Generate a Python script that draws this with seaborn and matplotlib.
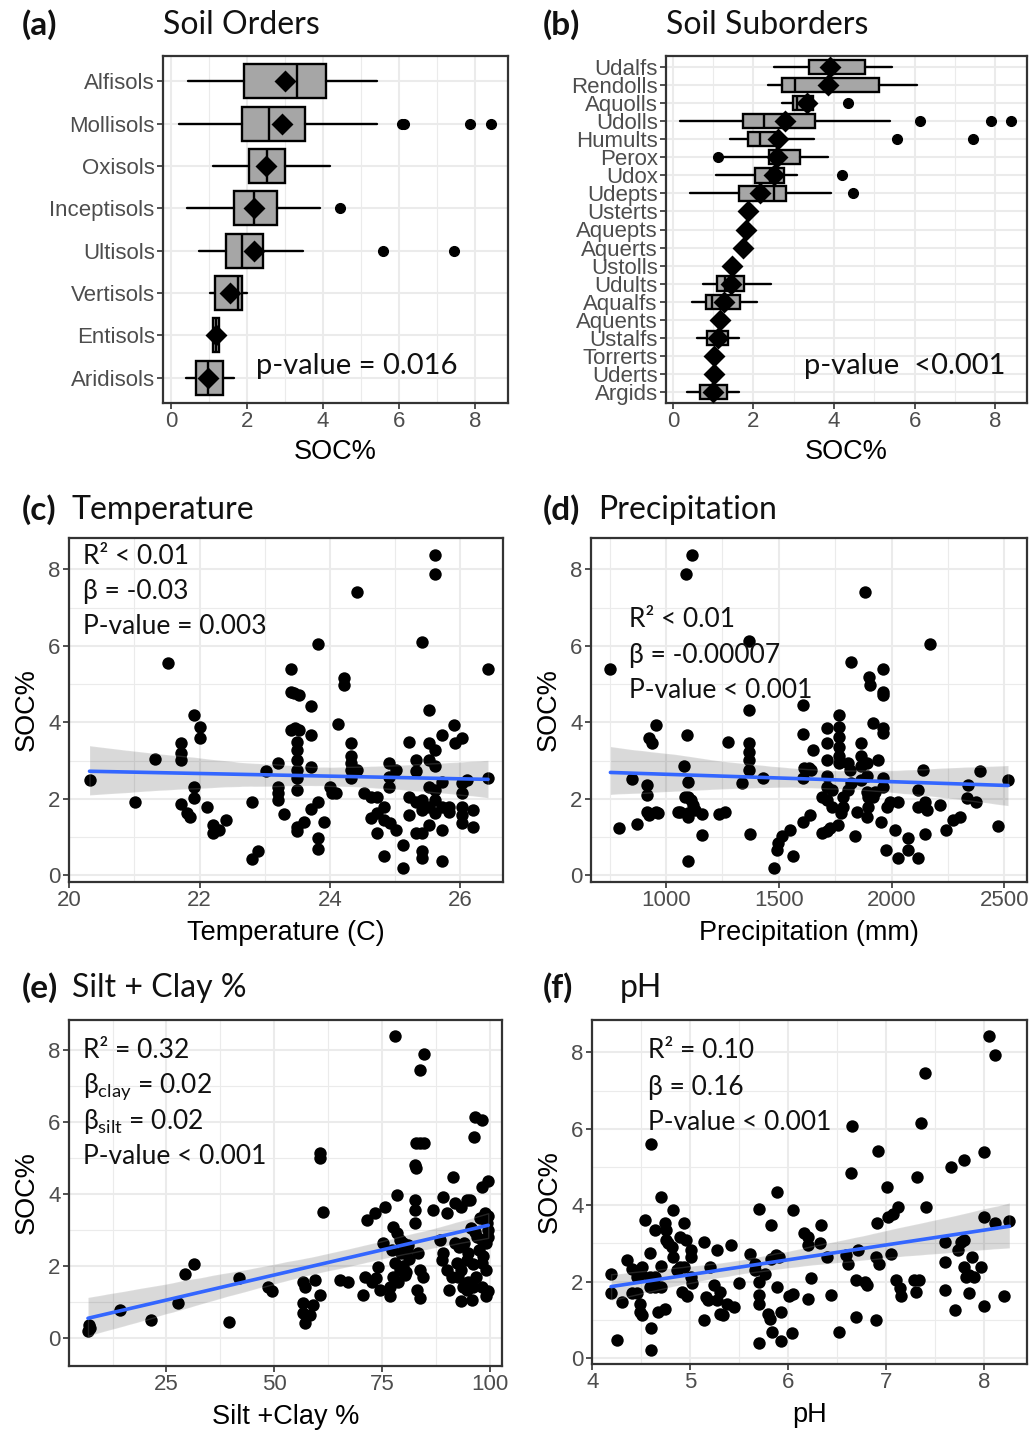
import matplotlib
matplotlib.use('Agg')
import matplotlib.pyplot as plt
import numpy as np
import seaborn as sns

sns.set_style('white')
plt.rcParams['font.family'] = ['Liberation Sans', 'DejaVu Sans']
TXT = ['Lato', 'DejaVu Sans']

# ---------------- (a) Soil orders : box statistics of SOC% ----------------
ord_names = ['Alfisols', 'Mollisols', 'Oxisols', 'Inceptisols', 'Ultisols',
             'Vertisols', 'Entisols', 'Aridisols']
ord_whislo = [0.46, 0.20, 1.10, 0.42, 0.74, 1.03, 1.10, 0.39]
ord_q1 = [1.92, 1.87, 2.06, 1.66, 1.45, 1.16, 1.10, 0.66]
ord_med = [3.32, 2.58, 2.53, 2.18, 1.88, 1.76, 1.18, 0.98]
ord_q3 = [4.09, 3.54, 3.00, 2.78, 2.42, 1.87, 1.26, 1.38]
ord_whishi = [5.42, 5.42, 4.19, 3.91, 3.47, 2.01, 1.26, 1.66]
ord_mean = [3.01, 2.93, 2.51, 2.18, 2.18, 1.55, 1.18, 0.98]
ord_out = [[], [6.09, 6.14, 7.88, 8.41], [], [4.46], [5.58, 7.44], [], [], []]

# ---------------- (b) Soil suborders ----------------
nan = float('nan')
sub_names = ['Udalfs', 'Rendolls', 'Aquolls', 'Udolls', 'Humults', 'Perox', 'Udox',
             'Udepts', 'Usterts', 'Aquepts', 'Aquerts', 'Ustolls', 'Udults', 'Aqualfs',
             'Aquents', 'Ustalfs', 'Torrerts', 'Uderts', 'Argids']
sub_whislo = [2.50, 2.35, 2.70, 0.18, 1.42, 1.15, 1.07, 0.43, nan, nan, nan, nan,
              0.74, 0.47, nan, 0.60, nan, nan, 0.35]
sub_q1 = [3.37, 2.72, 2.98, 1.73, 1.86, 2.39, 2.04, 1.65, nan, nan, nan, nan,
          1.09, 0.83, nan, 0.86, nan, nan, 0.68]
sub_med = [3.95, 3.04, 3.08, 2.27, 2.17, 2.55, 2.41, 2.50, nan, nan, nan, nan,
           1.30, 0.97, nan, 1.09, nan, nan, 1.01]
sub_q3 = [4.78, 5.12, 3.49, 3.53, 2.54, 3.16, 2.76, 2.80, nan, nan, nan, nan,
          1.77, 1.67, nan, 1.38, nan, nan, 1.34]
sub_whishi = [5.43, 6.07, 3.55, 5.39, 3.51, 3.85, 3.08, 3.93, nan, nan, nan, nan,
              2.43, 2.08, nan, 1.65, nan, nan, 1.65]
sub_mean = [3.90, 3.86, 3.32, 2.79, 2.62, 2.58, 2.50, 2.17, 1.86, 1.82, 1.75, 1.46,
            1.44, 1.26, 1.17, 1.12, 1.03, 1.01, 0.99]
sub_out = [[], [], [4.34], [6.14, 7.89, 8.40], [5.57, 7.44], [1.13], [4.19], [4.46],
           [], [], [], [], [], [], [], [], [], [], []]

# ---------------- (c) Temperature (C) vs SOC% ----------------
temp_soc = [(20.31, 2.50), (21.01, 1.91), (21.31, 3.04), (21.52, 5.56), (21.71, 3.47),
            (21.71, 3.21), (21.71, 3.02), (21.71, 1.87), (21.80, 1.64), (21.85, 1.54),
            (21.91, 4.19), (21.91, 2.32), (21.91, 2.02), (22.01, 3.89), (22.01, 3.59),
            (22.11, 1.80), (22.20, 1.32), (22.20, 1.10), (22.30, 1.19), (22.40, 1.44),
            (22.80, 1.91), (22.80, 0.43), (22.90, 0.65), (23.02, 2.74), (23.20, 2.93),
            (23.20, 2.32), (23.20, 2.15), (23.20, 1.96), (23.30, 1.61), (23.41, 5.39),
            (23.41, 4.80), (23.45, 4.76), (23.52, 4.72), (23.40, 3.80), (23.46, 3.85),
            (23.52, 3.80), (23.50, 3.50), (23.50, 3.28), (23.50, 3.02), (23.50, 2.76),
            (23.50, 2.54), (23.50, 2.24), (23.50, 1.28), (23.50, 1.15), (23.60, 1.41),
            (23.71, 4.44), (23.71, 3.67), (23.71, 2.83), (23.71, 1.73), (23.82, 6.04),
            (23.82, 1.93), (23.82, 0.97), (23.82, 0.69), (23.91, 1.41), (24.12, 3.96),
            (24.00, 2.32), (24.03, 2.15), (24.10, 2.15), (24.22, 5.15), (24.22, 4.98),
            (24.32, 3.46), (24.32, 3.11), (24.32, 2.93), (24.32, 2.76), (24.32, 2.54),
            (24.42, 7.42), (24.42, 2.76), (24.52, 2.15), (24.63, 2.06), (24.73, 2.05),
            (24.63, 1.50), (24.73, 1.10), (24.73, 1.63), (24.83, 1.80), (24.83, 0.50),
            (24.83, 1.45), (24.91, 2.93), (24.91, 2.58), (24.91, 2.32), (25.01, 2.76),
            (25.01, 1.19), (24.93, 1.37), (25.12, 0.80), (25.12, 0.19), (25.21, 3.50),
            (25.21, 2.06), (25.21, 1.58), (25.32, 3.02), (25.32, 2.72), (25.32, 1.93),
            (25.32, 1.10), (25.42, 6.11), (25.42, 1.98), (25.42, 1.71), (25.42, 1.10),
            (25.42, 0.63), (25.42, 0.45), (25.52, 4.33), (25.52, 3.46), (25.52, 3.02),
            (25.52, 2.32), (25.52, 1.80), (25.52, 1.32), (25.61, 8.37), (25.61, 7.87),
            (25.62, 3.28), (25.62, 2.85), (25.62, 2.24), (25.62, 1.98), (25.62, 1.63),
            (25.73, 3.67), (25.73, 2.45), (25.73, 1.80), (25.73, 1.19), (25.73, 0.37),
            (25.83, 1.80), (25.83, 1.67), (25.90, 3.93), (25.93, 3.46), (26.03, 3.59),
            (26.03, 2.41), (26.03, 2.15), (26.03, 1.80), (26.03, 1.58), (26.03, 1.37),
            (26.10, 2.50), (26.20, 1.71), (26.20, 1.28), (26.43, 5.39), (26.43, 2.54)]

# ---------------- (d) Precipitation (mm) vs SOC% ----------------
precip_soc = [(754, 5.39), (794, 1.25), (850, 2.52), (872, 1.35), (916, 2.37), (916, 2.11),
              (916, 1.67), (923, 1.58), (923, 3.59), (938, 3.46), (956, 3.93), (956, 1.67),
              (963, 1.63), (1052, 1.67), (1063, 1.67), (1081, 2.85), (1093, 3.67),
              (1086, 2.06), (1100, 2.06), (1111, 1.98), (1100, 1.63), (1100, 1.52),
              (1100, 2.45), (1100, 0.37), (1115, 8.37), (1089, 7.87), (1122, 1.85),
              (1130, 1.71), (1159, 1.61), (1159, 1.06), (1233, 1.61), (1262, 1.67),
              (1277, 3.50), (1336, 2.41), (1366, 6.13), (1366, 4.33), (1366, 3.46),
              (1366, 3.24), (1366, 3.02), (1366, 2.76), (1373, 1.08), (1432, 2.54),
              (1479, 0.19), (1491, 0.67), (1498, 0.84), (1513, 1.02), (1550, 1.19),
              (1565, 0.50), (1606, 4.46), (1606, 3.70), (1610, 2.80), (1620, 2.78),
              (1635, 2.80), (1645, 2.76), (1609, 1.41), (1639, 1.58), (1650, 3.28),
              (1609, 2.54), (1690, 1.10), (1712, 1.15), (1727, 1.24), (1690, 2.06),
              (1712, 3.85), (1712, 3.46), (1712, 3.02), (1712, 2.59), (1712, 2.32),
              (1712, 1.98), (1734, 2.24), (1734, 1.80), (1764, 1.32), (1768, 4.20),
              (1768, 3.89), (1768, 3.63), (1768, 3.37), (1768, 3.11), (1768, 2.93),
              (1778, 1.63), (1786, 2.06), (1786, 1.80), (1808, 2.93), (1815, 2.76),
              (1822, 2.41), (1808, 2.24), (1822, 5.59), (1838, 1.04), (1845, 1.67),
              (1863, 3.46), (1863, 3.11), (1863, 2.85), (1863, 2.50), (1882, 7.42),
              (1889, 2.93), (1889, 2.59), (1889, 2.19), (1889, 1.54), (1897, 2.06),
              (1897, 1.80), (1901, 5.20), (1904, 4.98), (1919, 2.06), (1926, 2.19),
              (1941, 3.02), (1919, 3.98), (1963, 5.39), (1963, 4.80), (1963, 4.72),
              (1963, 3.85), (1963, 3.72), (1963, 2.54), (1963, 2.32), (1951, 1.41),
              (1975, 0.67), (1978, 1.80), (1993, 1.93), (2015, 1.19), (2029, 1.93),
              (2029, 0.45), (2074, 0.97), (2074, 0.67), (2118, 0.45), (2118, 2.24),
              (2118, 1.80), (2140, 2.76), (2147, 1.93), (2155, 1.71), (2147, 1.09),
              (2172, 6.04), (2214, 1.85), (2243, 1.19), (2270, 1.45), (2302, 1.54),
              (2332, 2.02), (2339, 2.37), (2376, 1.93), (2391, 2.72), (2472, 1.30),
              (2516, 2.50)]

# ---------------- (e) Silt + Clay % vs SOC% ----------------
siltclay_soc = [(6.8, 0.19), (7.0, 0.37), (7.2, 0.28), (14.3, 0.77), (21.5, 0.51),
                (27.7, 0.97), (29.3, 1.79), (31.4, 2.06), (39.5, 0.46), (41.9, 1.68),
                (48.6, 1.43), (49.4, 1.30), (56.7, 1.57), (57.1, 1.43), (56.7, 0.97),
                (56.7, 0.69), (57.1, 0.42), (58.3, 0.65), (59.0, 0.93), (60.6, 1.20),
                (59.4, 1.62), (60.7, 5.13), (60.7, 4.99), (61.3, 3.50), (65.2, 1.62),
                (67.2, 1.57), (70.6, 1.20), (71.0, 1.71), (72.6, 1.57), (74.5, 1.34),
                (73.7, 1.67), (71.4, 3.28), (73.3, 3.47), (74.1, 1.99), (75.7, 3.65),
                (75.3, 2.64), (76.8, 1.43), (76.8, 1.16), (78.0, 8.39), (78.4, 3.98),
                (77.6, 3.10), (78.4, 2.91), (79.1, 2.73), (79.9, 2.64), (80.7, 2.45),
                (77.2, 2.45), (78.0, 2.08), (79.1, 1.90), (80.3, 1.76), (77.6, 1.71),
                (78.8, 1.57), (79.9, 2.00), (80.5, 1.85), (81.3, 2.20), (79.3, 2.36),
                (81.0, 2.60), (82.6, 3.84), (82.6, 3.56), (82.6, 3.19), (82.6, 4.81),
                (82.8, 4.72), (82.9, 5.41), (83.9, 5.41), (84.6, 5.41), (83.9, 7.45),
                (84.7, 7.88), (83.4, 2.36), (83.7, 1.90), (84.5, 1.71), (83.0, 1.34),
                (83.9, 1.11), (86.9, 3.56), (88.4, 2.73), (89.2, 2.36), (89.2, 3.93),
                (90.0, 3.47), (88.8, 2.17), (90.0, 1.90), (91.1, 1.71), (90.4, 1.34),
                (91.5, 4.47), (91.9, 3.75), (93.4, 3.65), (94.6, 3.84), (95.4, 3.84),
                (91.9, 2.64), (92.9, 2.54), (94.1, 2.64), (92.3, 2.08), (93.4, 1.90),
                (94.6, 2.17), (92.7, 1.71), (93.4, 1.02), (95.8, 1.06), (93.8, 1.43),
                (94.9, 1.57), (96.1, 1.43), (94.6, 1.34), (96.5, 6.15), (98.1, 6.06),
                (96.3, 5.57), (98.1, 4.21), (99.6, 4.35), (98.8, 3.47), (99.6, 3.38),
                (99.3, 3.19), (99.5, 3.00), (97.0, 2.82), (98.1, 2.73), (99.0, 2.64),
                (99.6, 2.82), (97.5, 2.45), (98.5, 2.28), (98.1, 2.08), (99.0, 1.90),
                (96.7, 1.71), (98.1, 1.43), (99.0, 1.16), (99.6, 1.30), (96.5, 2.95),
                (95.5, 3.05), (97.8, 3.35), (95.0, 2.36), (96.0, 2.05)]

# ---------------- (f) pH vs SOC% ----------------
ph_soc = [(4.19, 2.21), (4.19, 1.70), (4.25, 0.48), (4.30, 1.47), (4.35, 2.56), (4.40, 2.34),
          (4.40, 1.69), (4.45, 1.69), (4.45, 2.12), (4.50, 2.21), (4.51, 2.38), (4.49, 1.42),
          (4.49, 1.21), (4.51, 1.12), (4.54, 3.62), (4.59, 2.75), (4.59, 2.12), (4.59, 1.86),
          (4.60, 5.60), (4.60, 0.77), (4.60, 0.20), (4.64, 3.34), (4.64, 2.12), (4.64, 1.86),
          (4.70, 4.22), (4.70, 2.40), (4.70, 1.86), (4.67, 1.21), (4.74, 1.29), (4.74, 3.52),
          (4.75, 3.34), (4.75, 3.08), (4.77, 3.00), (4.81, 2.91), (4.82, 2.65), (4.82, 3.87),
          (4.86, 2.30), (4.89, 2.38), (4.89, 3.17), (4.91, 1.73), (4.93, 3.52), (4.96, 3.08),
          (4.94, 2.38), (4.97, 1.62), (5.01, 2.82), (5.01, 2.65), (5.01, 2.12), (5.02, 1.95),
          (5.14, 3.04), (5.14, 0.99), (5.16, 1.60), (5.18, 1.51), (5.20, 2.38), (5.24, 1.90),
          (5.27, 2.82), (5.27, 1.51), (5.30, 1.73), (5.30, 1.16), (5.33, 1.12), (5.37, 1.42),
          (5.42, 2.95), (5.45, 1.32), (5.50, 1.95), (5.61, 2.73), (5.66, 2.47), (5.66, 2.30),
          (5.70, 3.91), (5.70, 1.99), (5.70, 1.64), (5.70, 1.42), (5.70, 0.39), (5.76, 2.21),
          (5.79, 1.16), (5.81, 1.03), (5.82, 3.48), (5.82, 2.60), (5.83, 0.68), (5.88, 2.69),
          (5.91, 2.65), (5.89, 4.35), (5.89, 1.86), (5.93, 1.21), (5.93, 0.44), (6.01, 1.62),
          (6.05, 1.67), (6.05, 3.87), (6.04, 0.64), (6.16, 3.26), (6.20, 3.17), (6.20, 2.95),
          (6.20, 1.55), (6.23, 2.08), (6.32, 3.00), (6.33, 3.48), (6.40, 2.65), (6.44, 1.66),
          (6.52, 0.68), (6.59, 2.69), (6.61, 2.45), (6.64, 4.83), (6.65, 6.08), (6.69, 2.03),
          (6.69, 1.07), (6.71, 2.82), (6.78, 1.99), (6.80, 1.90), (6.90, 0.99), (6.90, 2.65),
          (6.93, 2.47), (6.91, 3.52), (6.92, 5.41), (7.01, 4.48), (7.02, 3.69), (7.07, 3.76),
          (7.12, 3.96), (7.05, 2.72), (7.10, 2.03), (7.14, 1.82), (7.15, 1.62), (7.29, 2.03),
          (7.31, 1.73), (7.34, 2.05), (7.32, 4.74), (7.36, 6.14), (7.40, 7.45), (7.41, 3.96),
          (7.60, 3.04), (7.60, 2.52), (7.60, 1.77), (7.66, 5.00), (7.70, 1.25), (7.73, 2.82),
          (7.77, 3.04), (7.80, 3.08), (7.80, 5.18), (7.80, 2.38), (7.82, 2.12), (7.85, 2.17),
          (7.85, 1.70), (7.88, 2.65), (7.90, 2.12), (7.97, 2.38), (8.00, 1.35), (8.00, 5.40),
          (8.00, 3.69), (8.05, 8.43), (8.11, 7.93), (8.11, 3.52), (8.21, 1.62), (8.26, 3.59)]

# ---------------- figure ----------------
W, H = 1029, 1432
fig = plt.figure(figsize=(W / 100, H / 100), dpi=100)
fig.patch.set_facecolor('white')

TICK_FS = 16
LAB_FS = 19.5


def rect(x0, y0, x1, y1):
    return [x0 / W, 1 - y1 / H, (x1 - x0) / W, (y1 - y0) / H]


def style(ax, xmaj, xmin, ymin=None):
    ax.set_facecolor('white')
    for s in ax.spines.values():
        s.set_visible(True)
        s.set_color('#333333')
        s.set_linewidth(1.6)
    ax.set_xticks(xmaj)
    ax.set_xticks(xmin, minor=True)
    if ymin is not None:
        ax.set_yticks([0, 2, 4, 6, 8])
        ax.set_yticks(ymin, minor=True)
    ax.grid(True, which='major', color='#EBEBEB', lw=1.5)
    ax.grid(True, which='minor', color='#EBEBEB', lw=0.8)
    ax.set_axisbelow(True)
    ax.tick_params(which='major', bottom=True, left=True, length=4, width=1.2,
                   color='#333333', labelsize=TICK_FS, labelcolor='#4D4D4D', pad=2)
    ax.tick_params(which='minor', bottom=False, left=False, length=0)


def box_panel(ax, names, lo, q1, med, q3, hi, mean, out):
    n = len(names)
    stats, pos = [], []
    for i in range(n):
        if np.isnan(q1[i]):
            continue
        stats.append(dict(whislo=lo[i], q1=q1[i], med=med[i], q3=q3[i],
                          whishi=hi[i], fliers=out[i]))
        pos.append(i)
    ax.bxp(stats, positions=pos, widths=0.8, orientation='horizontal',
           patch_artist=True, showcaps=False, showfliers=True,
           boxprops=dict(facecolor='#A6A6A6', edgecolor='black', linewidth=1.7),
           medianprops=dict(color='black', linewidth=1.7),
           whiskerprops=dict(color='black', linewidth=1.7),
           flierprops=dict(marker='o', markerfacecolor='black', markeredgecolor='black',
                           markersize=7))
    sns.scatterplot(x=mean, y=np.arange(n), marker='D', s=125, color='black',
                    linewidth=0, ax=ax, zorder=5)
    ax.set_yticks(np.arange(n), labels=names)
    ax.set_ylim(n - 1 + 0.6, -0.6)
    ax.set_ylabel('')
    ax.set_xlabel('SOC%', fontsize=LAB_FS, color='black', labelpad=5)


def reg_panel(ax, pts, xlabel):
    x = np.array([p[0] for p in pts], dtype=float)
    y = np.array([p[1] for p in pts], dtype=float)
    sns.scatterplot(x=x, y=y, color='black', s=80, linewidth=0, ax=ax)
    sns.regplot(x=x, y=y, scatter=False, color='black', ci=95, seed=3,
                line_kws=dict(alpha=0), ax=ax)
    sns.regplot(x=x, y=y, scatter=False, color='#3366FF', ci=None,
                line_kws=dict(lw=2.6), ax=ax)
    ax.set_xlabel(xlabel, fontsize=LAB_FS, color='black', labelpad=6)
    ax.set_ylabel('SOC%', fontsize=LAB_FS, color='black', labelpad=6)


# (a)
axa = fig.add_axes(rect(163, 56, 508, 403))
box_panel(axa, ord_names, ord_whislo, ord_q1, ord_med, ord_q3, ord_whishi, ord_mean, ord_out)
style(axa, [0, 2, 4, 6, 8], [1, 3, 5, 7])
axa.set_xlim(-0.21, 8.87)

# (b)
axb = fig.add_axes(rect(666, 56, 1027, 403))
box_panel(axb, sub_names, sub_whislo, sub_q1, sub_med, sub_q3, sub_whishi, sub_mean, sub_out)
style(axb, [0, 2, 4, 6, 8], [1, 3, 5, 7])
axb.set_xlim(-0.17, 8.79)

# (c)
axc = fig.add_axes(rect(69, 538, 503, 882))
reg_panel(axc, temp_soc, 'Temperature (C)')
style(axc, [20, 22, 24, 26], [21, 23, 25], [1, 3, 5, 7])
axc.set_xlim(19.995, 26.66)
axc.set_ylim(-0.17, 8.82)

# (d)
axd = fig.add_axes(rect(591, 538, 1027, 882))
reg_panel(axd, precip_soc, 'Precipitation (mm)')
style(axd, [1000, 1500, 2000, 2500], [750, 1250, 1750, 2250], [1, 3, 5, 7])
axd.set_xlim(668, 2600)
axd.set_ylim(-0.17, 8.82)

# (e)
axe = fig.add_axes(rect(69, 1020, 502, 1366))
reg_panel(axe, siltclay_soc, 'Silt +Clay %')
style(axe, [25, 50, 75, 100], [12.5, 37.5, 62.5, 87.5], [1, 3, 5, 7])
axe.set_xlim(2.4, 102.8)
axe.set_ylim(-0.77, 8.83)

# (f)
axf = fig.add_axes(rect(592, 1020, 1027, 1364))
reg_panel(axf, ph_soc, 'pH')
style(axf, [4, 5, 6, 7, 8], [4.5, 5.5, 6.5, 7.5], [1, 3, 5, 7])
axf.set_xlim(3.995, 8.44)
axf.set_ylim(-0.16, 8.85)


def ftext(x, y, s, **kw):
    kw.setdefault('family', TXT)
    kw.setdefault('va', 'center')
    kw.setdefault('color', '#111111')
    fig.text(x / W, 1 - y / H, s, **kw)


# panel titles
TIT = 23
for (x, y, s) in [(22, 25, '(a)'), (543, 25, '(b)'), (22, 510, '(c)'),
                  (543, 510, '(d)'), (22, 988, '(e)'), (543, 988, '(f)')]:
    ftext(x, y, s, fontsize=24, fontweight='bold')
for (x, y, s) in [(163, 25, 'Soil Orders'), (666, 25, 'Soil Suborders'),
                  (72, 510, 'Temperature'), (598, 510, 'Precipitation'),
                  (72, 988, 'Silt + Clay %'), (620, 988, 'pH')]:
    ftext(x, y, s, fontsize=TIT)

# statistics annotations
ftext(256, 366, 'p-value = 0.016', fontsize=21)
ftext(804, 366, 'p-value  <0.001', fontsize=21)

ST = 19
for yy, s in zip([556, 592, 627], ['R\u00b2 < 0.01', '\u03b2 = -0.03', 'P-value = 0.003']):
    ftext(83, yy, s, fontsize=ST)
for yy, s in zip([619, 655, 690], ['R\u00b2 < 0.01', '\u03b2 = -0.00007', 'P-value < 0.001']):
    ftext(629, yy, s, fontsize=ST)
for yy, s in zip([1050, 1087, 1122, 1157],
                 ['R\u00b2 = 0.32', '\u03b2$_{\\mathregular{clay}}$ = 0.02',
                  '\u03b2$_{\\mathregular{silt}}$ = 0.02', 'P-value < 0.001']):
    ftext(83, yy, s, fontsize=ST)
for yy, s in zip([1050, 1087, 1122], ['R\u00b2 = 0.10', '\u03b2 = 0.16', 'P-value < 0.001']):
    ftext(648, yy, s, fontsize=ST)

fig.savefig('out.png', dpi=100, facecolor='white')
